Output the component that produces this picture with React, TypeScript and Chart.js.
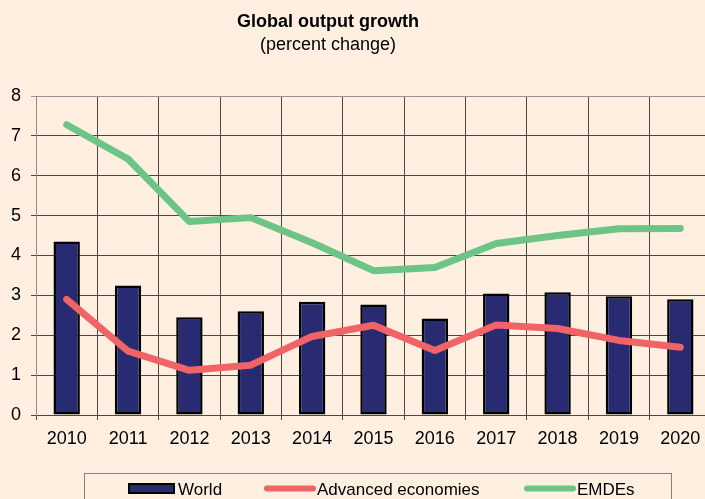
import React, { useEffect, useRef } from "react";
import { Chart, registerables } from "chart.js";

Chart.register(...registerables);

const years = ["2010", "2011", "2012", "2013", "2014", "2015", "2016", "2017", "2018", "2019", "2020"];
const world = [4.35, 3.25, 2.45, 2.6, 2.84, 2.77, 2.42, 3.05, 3.08, 2.98, 2.9];
const advanced = [2.9, 1.6, 1.12, 1.25, 1.97, 2.25, 1.62, 2.26, 2.17, 1.87, 1.7];
const emdes = [7.28, 6.42, 4.85, 4.95, 4.32, 3.62, 3.7, 4.3, 4.5, 4.67, 4.68];
const titleText = "Global output growth";
const subtitleText = "(percent change)";
const legendLabels = ["World", "Advanced economies", "EMDEs"];

const BG = "#FEEFE1";
const NAVY = "#282A72";
const RED = "#F06468";
const GREEN = "#6CC486";
const FONT = "'Liberation Sans', Arial, sans-serif";

export default function App() {
  const ref = useRef<HTMLCanvasElement | null>(null);

  useEffect(() => {
    document.body.style.margin = "0";
    document.body.style.background = BG;
    document.body.style.overflow = "hidden";
    const canvas = ref.current;
    if (!canvas) return;

    const bgPlugin = {
      id: "bg",
      beforeDraw(chart: any) {
        const ctx = chart.ctx;
        ctx.save();
        ctx.fillStyle = BG;
        ctx.fillRect(0, 0, chart.width, chart.height);
        ctx.restore();
      },
    };

    const decorPlugin = {
      id: "decor",
      afterDraw(chart: any) {
        const ctx = chart.ctx;
        ctx.save();
        ctx.fillStyle = "#000";
        ctx.textAlign = "center";
        ctx.textBaseline = "middle";
        ctx.font = `bold 18px ${FONT}`;
        ctx.fillText(titleText, 328, 22);
        ctx.font = `18px ${FONT}`;
        ctx.fillText(subtitleText, 328, 45);

        // legend box
        ctx.strokeStyle = "#8a7f7a";
        ctx.lineWidth = 1;
        ctx.strokeRect(84.5, 473.5, 587, 60);

        const ds = chart.data.datasets;
        // World swatch
        ctx.fillStyle = ds[0].backgroundColor;
        ctx.fillRect(129, 484, 45, 9);
        ctx.strokeStyle = "#000";
        ctx.lineWidth = 2;
        ctx.strokeRect(129, 484, 45, 9);
        // line swatches
        ctx.lineCap = "round";
        ctx.lineWidth = 6;
        ctx.strokeStyle = ds[1].borderColor;
        ctx.beginPath();
        ctx.moveTo(267, 488.5);
        ctx.lineTo(313, 488.5);
        ctx.stroke();
        ctx.strokeStyle = ds[2].borderColor;
        ctx.beginPath();
        ctx.moveTo(527, 488.5);
        ctx.lineTo(573, 488.5);
        ctx.stroke();

        ctx.fillStyle = "#000";
        ctx.textAlign = "left";
        ctx.font = `17px ${FONT}`;
        ctx.fillText(legendLabels[0], 178, 490);
        ctx.fillText(legendLabels[1], 317, 490);
        ctx.fillText(legendLabels[2], 577, 490);
        ctx.restore();
      },
    };

    const chart = new Chart(canvas, {
      type: "bar",
      data: {
        labels: years,
        datasets: [
          {
            type: "bar",
            label: legendLabels[0],
            data: world,
            backgroundColor: NAVY,
            borderColor: "#000",
            borderWidth: 2.5,
            borderSkipped: false,
            categoryPercentage: 1,
            barPercentage: 0.43,
            order: 3,
          } as any,
          {
            type: "line",
            label: legendLabels[1],
            data: advanced,
            borderColor: RED,
            backgroundColor: RED,
            borderWidth: 7,
            pointRadius: 0,
            tension: 0,
            borderCapStyle: "round",
            borderJoinStyle: "round",
            order: 2,
          } as any,
          {
            type: "line",
            label: legendLabels[2],
            data: emdes,
            borderColor: GREEN,
            backgroundColor: GREEN,
            borderWidth: 7,
            pointRadius: 0,
            tension: 0,
            borderCapStyle: "round",
            borderJoinStyle: "round",
            order: 1,
          } as any,
        ],
      },
      options: {
        responsive: false,
        animation: false,
        devicePixelRatio: 1,
        layout: { padding: { top: 96, left: 0, right: 1, bottom: 54 } },
        plugins: {
          legend: { display: false },
          title: { display: false },
          tooltip: { enabled: false },
        },
        scales: {
          x: {
            offset: true,
            grid: {
              offset: true,
              color: "#4f4646",
              lineWidth: 1,
              tickLength: 5,
              drawOnChartArea: true,
            },
            border: { color: "#4f4646", width: 1 },
            ticks: {
              color: "#000",
              font: { family: FONT, size: 18 },
              padding: 8,
              maxRotation: 0,
              autoSkip: false,
            },
            afterFit(scale: any) {
              scale.height = 30;
            },
          },
          y: {
            min: 0,
            max: 8,
            ticks: {
              stepSize: 1,
              color: "#000",
              font: { family: FONT, size: 18 },
              padding: 10,
            },
            grid: {
              color: (c: any) => (c.tick && c.tick.value === 8 ? "#9a9494" : "#4f4646"),
              lineWidth: 1,
              tickLength: 5,
            },
            border: { color: "#8f8a8a", width: 1 },
            afterFit(scale: any) {
              scale.width = 36;
            },
          },
        },
      },
      plugins: [bgPlugin, decorPlugin],
    } as any);

    return () => chart.destroy();
  }, []);

  return (
    <div style={{ width: 705, height: 499, overflow: "hidden", background: BG }}>
      <canvas ref={ref} width={712} height={499} style={{ width: 712, height: 499, display: "block" }} />
    </div>
  );
}
